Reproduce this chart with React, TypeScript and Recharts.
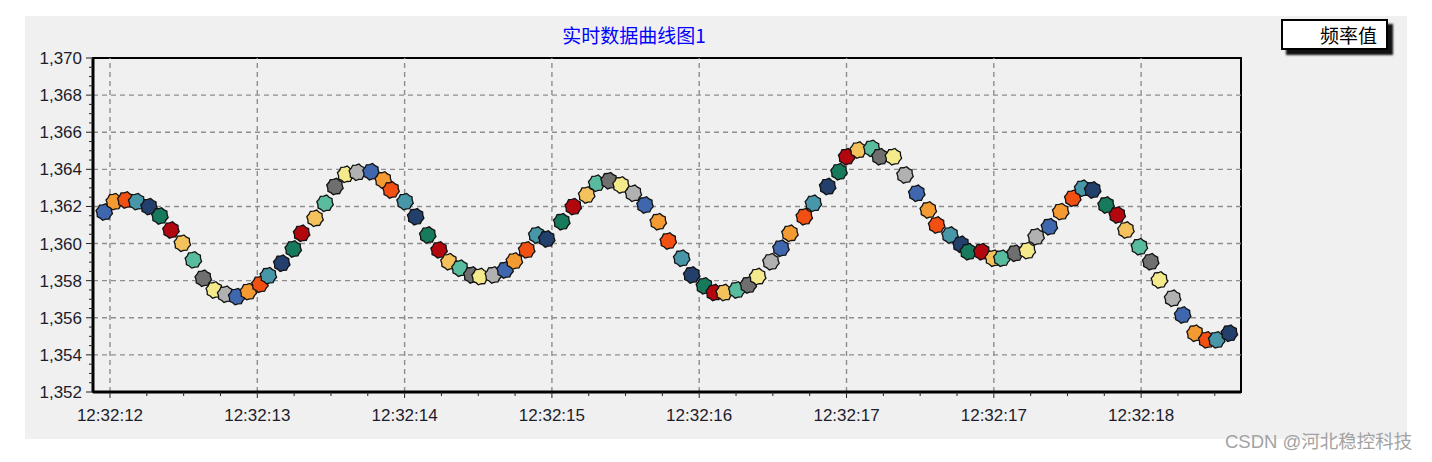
import React from "react";
import {
  ScatterChart,
  Scatter,
  XAxis,
  YAxis,
  ReferenceLine,
  ReferenceArea,
} from "recharts";

// seconds after 12:32:12
const times: number[] = [
  -0.039, 0.029, 0.107, 0.181, 0.265, 0.339, 0.414, 0.491, 0.566, 0.633,
  0.708, 0.785, 0.86, 0.939, 1.018, 1.075, 1.166, 1.244, 1.301, 1.392,
  1.46, 1.527, 1.6, 1.679, 1.772, 1.855, 1.908, 2.003, 2.075, 2.157,
  2.234, 2.301, 2.376, 2.456, 2.512, 2.602, 2.682, 2.745, 2.829, 2.897,
  2.965, 3.067, 3.145, 3.236, 3.304, 3.388, 3.469, 3.553, 3.632, 3.722,
  3.79, 3.881, 3.949, 4.035, 4.102, 4.17, 4.255, 4.333, 4.397, 4.487,
  4.555, 4.616, 4.713, 4.775, 4.872, 4.949, 5.001, 5.08, 5.171, 5.227,
  5.318, 5.397, 5.477, 5.555, 5.612, 5.703, 5.777, 5.827, 5.918, 5.997,
  6.054, 6.144, 6.227, 6.287, 6.377, 6.454, 6.536, 6.603, 6.671, 6.762,
  6.838, 6.897, 6.988, 7.065, 7.124, 7.214, 7.282, 7.366, 7.445, 7.513,
  7.599,
];

const freqValues: number[] = [
  1361.7, 1362.26, 1362.35, 1362.26, 1361.99, 1361.49, 1360.73, 1360.02, 1359.12, 1358.13,
  1357.5, 1357.27, 1357.14, 1357.41, 1357.81, 1358.27, 1358.94, 1359.71, 1360.55, 1361.36,
  1362.17, 1363.07, 1363.73, 1363.84, 1363.87, 1363.43, 1362.89, 1362.26, 1361.45, 1360.46,
  1359.66, 1359.02, 1358.67, 1358.31, 1358.22, 1358.31, 1358.58, 1359.06, 1359.66, 1360.46,
  1360.25, 1361.18, 1361.99, 1362.62, 1363.25, 1363.39, 1363.16, 1362.71, 1362.08, 1361.18,
  1360.14, 1359.21, 1358.31, 1357.72, 1357.36, 1357.36, 1357.5, 1357.77, 1358.22, 1359.02,
  1359.75, 1360.55, 1361.45, 1362.17, 1363.07, 1363.87, 1364.68, 1365.04, 1365.13, 1364.68,
  1364.68, 1363.7, 1362.71, 1361.81, 1361.0, 1360.46, 1359.96, 1359.56, 1359.56, 1359.21,
  1359.21, 1359.48, 1359.62, 1360.37, 1360.91, 1361.72, 1362.44, 1362.98, 1362.89, 1362.08,
  1361.54, 1360.73, 1359.83, 1359.02, 1358.04, 1357.05, 1356.15, 1355.17, 1354.81, 1354.81,
  1355.17,
];

const xMajorTicks: number[] = [0, 1, 2, 3, 4, 5, 6, 7];
const xTickLabels: string[] = [
  "12:32:12", "12:32:13", "12:32:14", "12:32:15",
  "12:32:16", "12:32:17", "12:32:17", "12:32:18",
];
const yMajorTicks: number[] = [1352, 1354, 1356, 1358, 1360, 1362, 1364, 1366, 1368, 1370];
const yTickLabels: string[] = [
  "1,352", "1,354", "1,356", "1,358", "1,360", "1,362", "1,364", "1,366", "1,368", "1,370",
];

const title = "实时数据曲线图1";
const seriesName = "频率值";
const watermark = "CSDN @河北稳控科技";

const palette = [
  "#3f67ae", "#f49a33", "#f24f13", "#4797a8", "#233f6c", "#187a5d",
  "#b3070f", "#f3c25c", "#5abc9f", "#6f6f6f", "#f4ea8c", "#b1b1b1",
];

const X_DOMAIN: [number, number] = [-0.1154, 7.678];
const Y_DOMAIN: [number, number] = [1352, 1370];
const PLOT_LEFT = 93;
const PLOT_BOTTOM = 392;
const FONT = "'Liberation Sans', Arial, sans-serif";

const data = times.map((t, i) => ({ t, v: freqValues[i], idx: i }));

const xAllTicks: number[] = [];
for (let k = 0; k <= 30; k++) {
  const val = k * 0.25;
  if (val >= X_DOMAIN[0] && val <= X_DOMAIN[1]) xAllTicks.push(val);
}
const yAllTicks: number[] = [];
for (let k = 0; k <= 36; k++) yAllTicks.push(1352 + k * 0.5);

const GearShape = (props: any) => {
  const { cx, cy, payload } = props;
  if (cx == null || cy == null) return null;
  const color = palette[(payload?.idx ?? 0) % palette.length];
  const pts: string[] = [];
  const n = 16;
  for (let k = 0; k < n; k++) {
    const a = (Math.PI * 2 * k) / n + Math.PI / 16;
    const r = k % 2 === 0 ? 8.4 : 7.3;
    pts.push(`${(cx + r * Math.cos(a)).toFixed(2)},${(cy + r * Math.sin(a)).toFixed(2)}`);
  }
  return <polygon points={pts.join(" ")} fill={color} stroke="#111" strokeWidth={1.3} />;
};

const XTick = (props: any) => {
  const { x, payload } = props;
  const val = payload.value as number;
  const majorIdx = xMajorTicks.findIndex((m) => Math.abs(m - val) < 1e-6);
  const isMajor = majorIdx >= 0;
  return (
    <g>
      <line x1={x} x2={x} y1={PLOT_BOTTOM} y2={PLOT_BOTTOM + (isMajor ? 6 : 4)} stroke="#222" strokeWidth={1} />
      {isMajor && (
        <text x={x} y={421} textAnchor="middle" fontSize={17} fontFamily={FONT} fill="#1c1c2c">
          {xTickLabels[majorIdx]}
        </text>
      )}
    </g>
  );
};

const YTick = (props: any) => {
  const { y, payload } = props;
  const val = payload.value as number;
  const majorIdx = yMajorTicks.findIndex((m) => Math.abs(m - val) < 1e-6);
  const isMajor = majorIdx >= 0;
  return (
    <g>
      <line x1={PLOT_LEFT - (isMajor ? 7 : 4)} x2={PLOT_LEFT} y1={y} y2={y} stroke="#222" strokeWidth={1} />
      {isMajor && (
        <text x={82} y={y + 6} textAnchor="end" fontSize={17} fontFamily={FONT} fill="#1c1c2c">
          {yTickLabels[majorIdx]}
        </text>
      )}
    </g>
  );
};

export default function App() {
  return (
    <div style={{ position: "absolute", left: 0, top: 0, width: 1432, height: 462, background: "#fff", overflow: "hidden" }}>
      <div style={{ position: "absolute", left: 25, top: 16, width: 1382, height: 423, background: "#f0f0f0" }} />
      <div
        style={{
          position: "absolute",
          left: 434,
          top: 22,
          width: 400,
          textAlign: "center",
          color: "#0000ff",
          fontSize: 19,
          lineHeight: "26px",
          fontFamily: "'Noto Sans CJK SC', sans-serif",
        }}
      >
        {title}
      </div>
      <div
        style={{
          position: "absolute",
          left: 1281,
          top: 19,
          width: 107,
          height: 31,
          boxSizing: "border-box",
          background: "#fff",
          border: "2px solid #000",
          boxShadow: "5px 5px 2px #111",
          textAlign: "right",
          paddingRight: 9,
          fontSize: 19,
          lineHeight: "27px",
          color: "#000",
          fontFamily: "'Noto Sans CJK SC', sans-serif",
        }}
      >
        {seriesName}
      </div>
      <div
        style={{
          position: "absolute",
          left: 1225,
          top: 429,
          fontSize: 18.5,
          lineHeight: "26px",
          color: "#a3a3a3",
          whiteSpace: "nowrap",
          fontFamily: "'Liberation Sans', 'Noto Sans CJK SC', sans-serif",
        }}
      >
        {watermark}
      </div>
      <div style={{ position: "absolute", left: 0, top: 0 }}>
        <ScatterChart width={1432} height={462} margin={{ top: 58, right: 191, bottom: 0, left: 0 }}>
          <XAxis
            type="number"
            dataKey="t"
            domain={X_DOMAIN}
            allowDataOverflow
            ticks={xAllTicks}
            interval={0}
            height={70}
            tickLine={false}
            axisLine={{ stroke: "#000", strokeWidth: 3 }}
            tick={<XTick />}
          />
          <YAxis
            type="number"
            dataKey="v"
            domain={Y_DOMAIN}
            allowDataOverflow
            ticks={yAllTicks}
            interval={0}
            width={93}
            tickLine={false}
            axisLine={{ stroke: "#000", strokeWidth: 3 }}
            tick={<YTick />}
          />
          {yMajorTicks.slice(1, -1).map((v) => (
            <ReferenceLine key={"h" + v} y={v} stroke="#8e8e8e" strokeWidth={1.4} strokeDasharray="5 4" />
          ))}
          {xMajorTicks.map((t) => (
            <ReferenceLine key={"v" + t} x={t} stroke="#8e8e8e" strokeWidth={1.4} strokeDasharray="5 4" />
          ))}
          <ReferenceArea
            x1={X_DOMAIN[0]}
            x2={X_DOMAIN[1]}
            y1={Y_DOMAIN[0]}
            y2={Y_DOMAIN[1]}
            fill="#f0f0f0"
            fillOpacity={0}
            stroke="#000"
            strokeWidth={2}
          />
          <Scatter data={data} shape={GearShape} isAnimationActive={false} name={seriesName} />
        </ScatterChart>
      </div>
    </div>
  );
}
